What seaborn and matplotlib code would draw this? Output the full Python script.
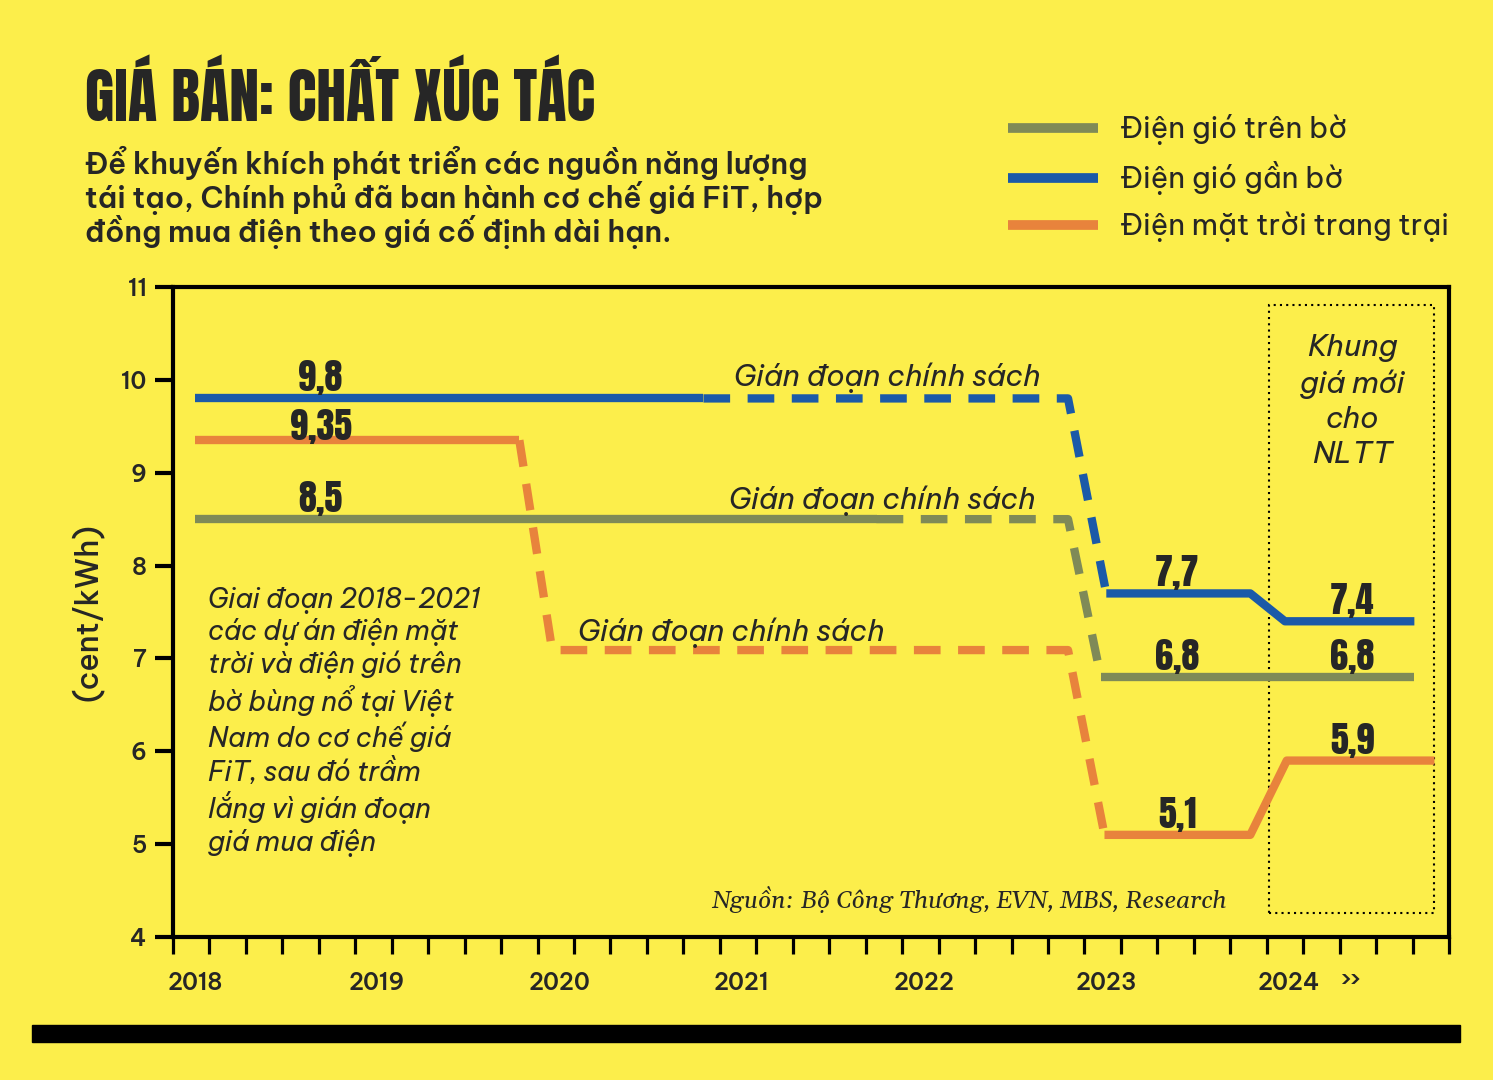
import matplotlib
matplotlib.use('Agg')
import numpy as np
import pandas as pd
import matplotlib.pyplot as plt
from matplotlib import font_manager
from matplotlib.lines import Line2D
from matplotlib.patches import Rectangle
import seaborn as sns

# Series data (year, cent/kWh) and the style of each segment between points
onshore_x = [2018.0, 2021.74, 2022.79, 2022.97, 2024.69]
onshore_y = [8.5, 8.5, 8.5, 6.8, 6.8]
onshore_style = ['solid', 'dashed', 'dashed', 'solid']

offshore_x = [2018.0, 2020.79, 2022.79, 2023.0, 2023.79, 2023.98, 2024.69]
offshore_y = [9.8, 9.8, 9.8, 7.7, 7.7, 7.4, 7.4]
offshore_style = ['solid', 'dashed', 'dashed', 'solid', 'solid', 'solid']

solar_x = [2018.0, 2019.78, 2019.96, 2022.79, 2022.99, 2023.79, 2023.99, 2024.80]
solar_y = [9.35, 9.35, 7.09, 7.09, 5.1, 5.1, 5.9, 5.9]
solar_style = ['solid', 'dashed', 'dashed', 'dashed', 'solid', 'solid', 'solid']

series_names = ['Điện gió trên bờ', 'Điện gió gần bờ', 'Điện mặt trời trang trại']
series_colors = ['#7F8A57', '#1B5AA8', '#E8833C']

# Value labels
value_x = [2018.69, 2018.69, 2018.69, 2023.39, 2023.39, 2023.39, 2024.35, 2024.35, 2024.35]
value_y = [9.8, 9.35, 8.5, 7.7, 6.8, 5.1, 7.4, 6.8, 5.9]
value_text = ['9,8', '9,35', '8,5', '7,7', '6,8', '5,1', '7,4', '6,8', '5,9']

years = [2018, 2019, 2020, 2021, 2022, 2023, 2024]
y_ticks = [4, 5, 6, 7, 8, 9, 10, 11]

title = 'GIÁ BÁN: CHẤT XÚC TÁC'
subtitle = ('Để khuyến khích phát triển các nguồn năng lượng\n'
            'tái tạo, Chính phủ đã ban hành cơ chế giá FiT, hợp\n'
            'đồng mua điện theo giá cố định dài hạn.')
note = ('Giai đoạn 2018-2021\ncác dự án điện mặt\ntrời và điện gió trên\n'
        'bờ bùng nổ tại Việt\nNam do cơ chế giá\nFiT, sau đó trầm\n'
        'lắng vì gián đoạn\ngiá mua điện')
gap_text = 'Gián đoạn chính sách'
box_text = 'Khung\ngiá mới\ncho\nNLTT'
source = 'Nguồn: Bộ Công Thương, EVN, MBS, Research'

BG = '#FCEE4B'

# Long table: one run per continuous piece with the same line style
rows = []
for name, xs, ys, styles in [(series_names[0], onshore_x, onshore_y, onshore_style),
                             (series_names[1], offshore_x, offshore_y, offshore_style),
                             (series_names[2], solar_x, solar_y, solar_style)]:
    run = 0
    for i, st in enumerate(styles):
        if i == 0 or st != styles[i - 1]:
            run += 1
            rows.append((name, f'{name}-{run}', st, xs[i], ys[i]))
        rows.append((name, f'{name}-{run}', st, xs[i + 1], ys[i + 1]))
df = pd.DataFrame(rows, columns=['series', 'run', 'kind', 'x', 'y'])

# Fonts (first one found wins)
names = {f.name for f in font_manager.fontManager.ttflist}
def pick(cands, default='DejaVu Sans'):
    for c in cands:
        if c in names:
            return c
    return default

cond = pick(['Anton', 'Oswald', 'Roboto Condensed'])
body = pick(['Be Vietnam Pro', 'Noto Sans', 'Open Sans'])
serif = pick(['Gelasio', 'Liberation Serif', 'DejaVu Serif'])

sns.set_theme(style='ticks')
plt.rcParams['font.family'] = [body, 'DejaVu Sans']
plt.rcParams['lines.solid_capstyle'] = 'butt'
plt.rcParams['lines.dash_capstyle'] = 'butt'

fig = plt.figure(figsize=(14.93, 10.8), dpi=100, facecolor=BG)
ax = fig.add_axes([173 / 1493, 1 - 937 / 1080, 1276 / 1493, 650 / 1080])
ax.set_facecolor(BG)

sns.lineplot(data=df, x='x', y='y', hue='series', style='kind', units='run',
             estimator=None, sort=False, palette=dict(zip(series_names, series_colors)),
             dashes={'solid': '', 'dashed': (3.2, 2.1)}, linewidth=6, legend=False, ax=ax)

ax.set_xlim(2017.88, 2024.88)
ax.set_ylim(4, 11)
ax.set_xticks(years)
ax.set_xticklabels([str(y) for y in years], fontsize=16.5, fontweight='semibold')
ax.set_xticks(np.arange(2017.88, 2024.89, 0.2), minor=True)
ax.tick_params(axis='x', which='major', length=0, pad=25)
ax.tick_params(axis='x', which='minor', length=12.5, width=2.3, color='black', direction='out')
ax.set_yticks(y_ticks)
ax.set_yticklabels([str(v) for v in y_ticks], fontsize=16.5, fontweight='semibold')
ax.tick_params(axis='y', length=13, width=3, color='black', pad=6)
for s in ax.spines.values():
    s.set_linewidth(3)
    s.set_color('black')
ax.set_xlabel('')
ax.set_ylabel('(cent/kWh)', fontsize=22, labelpad=13, fontweight='medium')

# Value labels sit on top of their line (9,35 rests on it)
label_dy = [5, 0, 5, 5, 5, 5, 5, 5, 5]
for x, y, t, dy in zip(value_x, value_y, value_text, label_dy):
    ax.annotate(t, (x, y), xytext=(0, dy), textcoords='offset points', ha='center',
                va='baseline', fontsize=26, family=[cond, 'DejaVu Sans'])

g1 = ax.text(2020.96, 9.93, gap_text, ha='left', va='baseline', fontsize=20, style='italic')
g2 = ax.text(2020.93, 8.61, gap_text, ha='left', va='baseline', fontsize=20, style='italic')
g3 = ax.text(2020.10, 7.19, gap_text, ha='left', va='baseline', fontsize=20, style='italic')

t_note = ax.text(2018.07, 7.77, note, ha='left', va='top', fontsize=19, style='italic', linespacing=1.2)

ax.add_patch(Rectangle((2023.89, 4.26), 0.91, 6.55, fill=False, linestyle=(0, (1, 2)), lw=1.5, color='black'))
t_box = ax.text(2024.35, 10.49, box_text, ha='center', va='top', fontsize=21.5, style='italic', linespacing=1.32)

t_src = ax.text(2020.83, 4.4, source, ha='left', va='center', fontsize=18, style='italic', family=serif)

t_title = fig.text(85 / 1493, 1 - 95 / 1080, title, ha='left', va='center', fontsize=50,
                   family=[cond, 'DejaVu Sans'])
t_sub = fig.text(85 / 1493, 1 - 146 / 1080, subtitle, ha='left', va='top', fontsize=19.5,
                 fontweight='semibold', linespacing=1.0)

# scale texts to the widths they take in the reference
r = fig.canvas.get_renderer()
for t, w in [(t_title, 510), (t_sub, 740), (g1, 307), (g2, 307), (g3, 307), (t_note, 272), (t_src, 516)]:
    cur = t.get_window_extent(r).width
    t.set_fontsize(t.get_fontsize() * w / cur)

probe = fig.text(0, 0, series_names[2], fontsize=20)
leg_size = 20 * 330 / probe.get_window_extent(r).width
probe.remove()

handles = [Line2D([], [], color=c, lw=7, solid_capstyle='butt') for c in series_colors]
fig.legend(handles, series_names, loc='center left', bbox_to_anchor=(1008 / 1493, 1 - 178 / 1080),
           frameon=False, fontsize=leg_size, handlelength=90 / (leg_size * 100 / 72),
           handletextpad=22 / (leg_size * 100 / 72), labelspacing=0.55,
           borderpad=0, borderaxespad=0)

fig.text(1350 / 1493, 1 - 981 / 1080, '››', ha='center', va='center', fontsize=17, fontweight='semibold')
fig.add_artist(Rectangle((32 / 1493, 1 - 1042 / 1080), 1428 / 1493, 17 / 1080,
                         transform=fig.transFigure, color='black'))

fig.savefig('out.png', dpi=100, facecolor=BG)
